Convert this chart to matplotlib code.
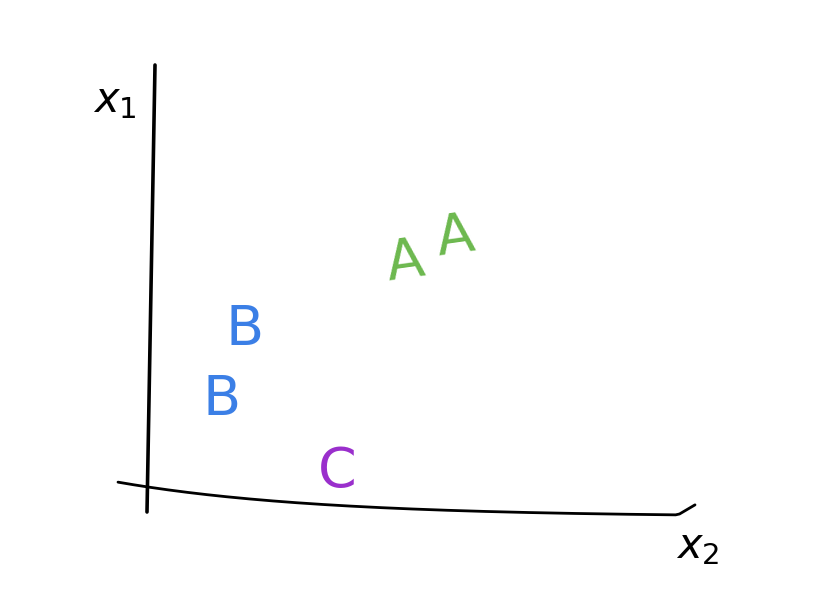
import numpy as np
import matplotlib
matplotlib.use("Agg")
import matplotlib.pyplot as plt

# sketch points: letter, x2 position, x1 position
labels = ["A", "A", "B", "B", "C"]
x2 = [5.14, 6.14, 1.94, 1.48, 3.78]
x1 = [4.50, 5.00, 3.14, 1.74, 0.30]
colors = ["#6cb84e", "#6cb84e", "#3b7fe6", "#3b7fe6", "#9a2fcc"]
tilt = [8, 8, 0, 0, 0]

fig = plt.figure(figsize=(8.38, 6.0), dpi=100)
ax = fig.add_axes([0, 0, 1, 1])
ax.set_xlim(-2.96, 13.8)
ax.set_ylim(-2.26, 9.74)
ax.axis("off")

# hand drawn axes
t = np.linspace(0, 1, 50)
ax.plot(0.14 - 0.16 * t, 8.44 - 8.94 * t, color="black", lw=2.6,
        solid_capstyle="round")
xs = np.linspace(-0.6, 10.94, 150)
ys = -0.6 * (1 - np.exp(-xs / 4))
ys = np.where(xs > 10.6, ys + (xs - 10.6) * 0.6, ys)
ax.plot(xs, ys, color="black", lw=2.0, solid_capstyle="round")

ax.text(-0.66, 7.74, r"$x_1$", fontsize=30, color="black",
        ha="center", va="center")
ax.text(11.0, -1.18, r"$x_2$", fontsize=30, color="black",
        ha="center", va="center")

for lab, a, b, c, r in zip(labels, x2, x1, colors, tilt):
    ax.text(a, b, lab, fontsize=40, color=c, ha="center", va="center",
            rotation=r, family="DejaVu Sans")

fig.savefig("out.png", dpi=100)
